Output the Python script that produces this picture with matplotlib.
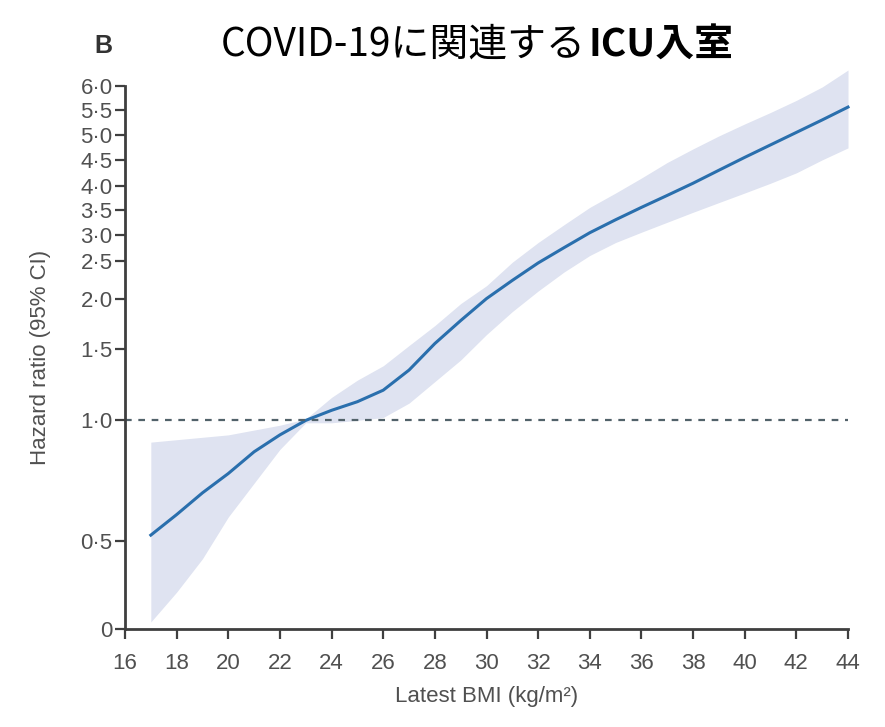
import numpy as np
import matplotlib
matplotlib.use("Agg")
import matplotlib.pyplot as plt
from matplotlib import font_manager

# data
bmi = [17, 18, 19, 20, 21, 22, 23, 24, 25, 26, 27, 28, 29, 30,
       31, 32, 33, 34, 35, 36, 37, 38, 39, 40, 41, 42, 43, 44]
hr = [0.525, 0.61, 0.70, 0.78, 0.87, 0.94, 1.00, 1.07, 1.13, 1.21, 1.35, 1.55, 1.78, 2.00,
      2.24, 2.47, 2.75, 3.04, 3.30, 3.55, 3.80, 4.05, 4.30, 4.55, 4.80, 5.05, 5.30, 5.56]
ci_upper = [0.91, 0.92, 0.93, 0.94, 0.96, 0.98, 1.01, 1.16, 1.28, 1.38, 1.53, 1.73, 1.95, 2.17,
            2.48, 2.85, 3.20, 3.55, 3.85, 4.15, 4.45, 4.72, 4.98, 5.22, 5.45, 5.70, 5.98, 6.32]
ci_lower = [0.04, 0.21, 0.40, 0.60, 0.74, 0.88, 0.99, 0.99, 1.00, 1.02, 1.12, 1.27, 1.42, 1.64,
            1.87, 2.10, 2.35, 2.60, 2.85, 3.05, 3.25, 3.45, 3.65, 3.85, 4.05, 4.25, 4.50, 4.74]

y_ticks = [0, 0.5, 1.0, 1.5, 2.0, 2.5, 3.0, 3.5, 4.0, 4.5, 5.0, 5.5, 6.0]
x_ticks = list(range(16, 45, 2))

# the published axis is stretched unevenly: knots of the scale
knot_hr = [0, 0.5, 1.0, 1.5, 2.0, 2.5, 3.0, 3.5, 4.0, 4.5, 5.0, 5.5, 6.0, 7.0]
knot_pos = [0, 88, 209, 281, 331, 369, 395, 420, 444, 470, 495, 520, 544, 594]


def fwd(v):
    return np.interp(v, knot_hr, knot_pos)


def inv(p):
    return np.interp(p, knot_pos, knot_hr)


def tick_text(v):
    if v == 0:
        return "0"
    return f"{v:.1f}".replace(".", "\u00b7")


names = {f.name for f in font_manager.fontManager.ttflist}
narrow = "Liberation Sans Narrow" if "Liberation Sans Narrow" in names else "Liberation Sans"

axis_col = "#3f3f3f"
text_col = "#505050"

fig = plt.figure(figsize=(8.85, 7.27), dpi=100)
ax = fig.add_axes([125 / 885, 1 - 629 / 727, 723 / 885, 543 / 727])
ax.set_yscale("function", functions=(fwd, inv))
ax.set_xlim(16, 44)
ax.set_ylim(0, 6)

ax.fill_between(bmi, ci_lower, ci_upper, color="#dfe3f1", lw=0, clip_on=False)
ax.plot(bmi, hr, color="#2a6fad", lw=2.2, clip_on=False)
ax.axhline(1.0, color="#52626a", lw=1.6, ls=(0, (3, 3)))

for s in ["top", "right"]:
    ax.spines[s].set_visible(False)
for s in ["left", "bottom"]:
    ax.spines[s].set_color(axis_col)
    ax.spines[s].set_linewidth(2)

ax.set_yticks(y_ticks)
ax.set_yticklabels([tick_text(v) for v in y_ticks])
ax.set_xticks(x_ticks)
ax.tick_params(axis="both", colors=axis_col, labelcolor=text_col, length=7, width=1.6,
               labelsize=16)
ax.tick_params(axis="y", pad=2)
ax.tick_params(axis="x", pad=10)
for lab in ax.get_xticklabels() + ax.get_yticklabels():
    lab.set_family(narrow)

ax.set_xlabel("Latest BMI (kg/m\u00b2)", color=text_col, fontsize=16, family=narrow,
              labelpad=9)
ax.set_ylabel("Hazard ratio (95% CI)", color=text_col, fontsize=16, family=narrow,
              labelpad=21)

jp = ["Noto Sans CJK JP", "DejaVu Sans"]
fig.text(586 / 885, 1 - 45 / 727, "COVID-19に関連する", family=jp, fontsize=28,
         ha="right", va="center")
fig.text(588 / 885, 1 - 45 / 727, "ICU入室", family=jp, fontsize=28, weight="bold",
         ha="left", va="center")
fig.text(103 / 885, 1 - 46 / 727, "B", fontsize=18, weight="bold", color="#333333",
         family=narrow, ha="center", va="center")

fig.savefig("out.png", dpi=100)
